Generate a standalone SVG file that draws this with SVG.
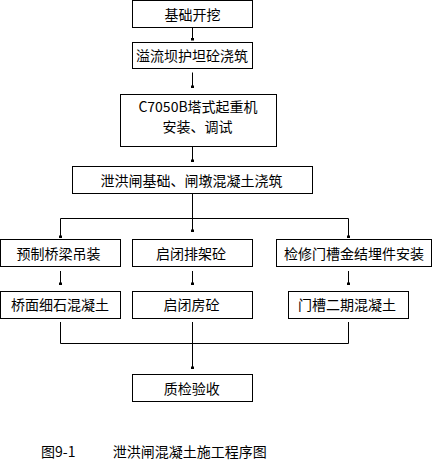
<svg xmlns="http://www.w3.org/2000/svg" width="432" height="464" viewBox="0 0 432 464">
<defs>
<style>
.box{fill:#fff;stroke:#000;stroke-width:1}
.t{font-family:"Noto Sans CJK SC","Liberation Sans",sans-serif;font-size:14px;fill:#000;text-anchor:middle}
.c{fill:none;stroke:#000;stroke-width:1}
.ah{fill:#000}
</style>
</defs>
<rect width="432" height="464" fill="#fff"/>
<g id="connectors">
<path class="c" d="M192.5,27.5V40"/>
<rect class="ah" x="191" y="38" width="3" height="2.5"/>
<path class="c" d="M192.5,72.5V87.5"/>
<rect class="ah" x="191" y="85.5" width="3" height="2.5"/>
<path class="c" d="M192.5,146.5V161.5"/>
<rect class="ah" x="191" y="159.5" width="3" height="2.5"/>
<path class="c" d="M192.5,193.5V231.5"/>
<rect class="ah" x="191" y="229.5" width="3" height="2.5"/>
<path class="c" d="M60.5,237.5V218.5H348.5V237.5"/>
<rect class="ah" x="59" y="235.5" width="3" height="2.5"/>
<rect class="ah" x="347" y="235.5" width="3" height="2.5"/>
<path class="c" d="M60.5,271V284.5M192.5,271V284.5M348.5,271V284.5"/>
<rect class="ah" x="59" y="282.5" width="3" height="2.5"/>
<rect class="ah" x="191" y="282.5" width="3" height="2.5"/>
<rect class="ah" x="347" y="282.5" width="3" height="2.5"/>
<path class="c" d="M60.5,322V343.5H348.5V322M192.5,322V368.5"/>
<rect class="ah" x="191" y="366.5" width="3" height="2.5"/>
</g>
<g id="n1"><rect class="box" x="132.5" y="0.5" width="120" height="27"/><text class="t" x="192.5" y="20">基础开挖</text></g>
<g id="n2"><rect class="box" x="132.5" y="42.5" width="120" height="26"/><text class="t" x="192" y="61">溢流坝护坦砼浇筑</text></g>
<g id="n3"><rect class="box" x="120.5" y="94.5" width="156" height="52"/><text class="t" x="198" y="112">C7050B塔式起重机</text><text class="t" x="197.5" y="132">安装、调试</text></g>
<g id="n4"><rect class="box" x="72.5" y="166.5" width="240" height="27"/><text class="t" x="191.5" y="186">泄洪闸基础、闸墩混凝土浇筑</text></g>
<g id="n5"><rect class="box" x="0.5" y="239.5" width="120" height="27"/><text class="t" x="58.5" y="258.5">预制桥梁吊装</text></g>
<g id="n6"><rect class="box" x="132.5" y="239.5" width="120" height="27"/><text class="t" x="191" y="258.5">启闭排架砼</text></g>
<g id="n7"><rect class="box" x="276.5" y="239.5" width="155" height="27"/><text class="t" x="354" y="258.5">检修门槽金结埋件安装</text></g>
<g id="n8"><rect class="box" x="0.5" y="291.5" width="120" height="27"/><text class="t" x="60" y="310">桥面细石混凝土</text></g>
<g id="n9"><rect class="box" x="132.5" y="291.5" width="120" height="27"/><text class="t" x="191.5" y="310">启闭房砼</text></g>
<g id="n10"><rect class="box" x="288.5" y="291.5" width="120" height="27"/><text class="t" x="347" y="310">门槽二期混凝土</text></g>
<g id="n11"><rect class="box" x="132.5" y="374.5" width="120" height="27"/><text class="t" x="191.7" y="393.5">质检验收</text></g>
<g id="caption">
<text class="t" x="41" y="457" style="text-anchor:start">图9-1</text>
<text class="t" x="112.7" y="457" style="text-anchor:start">泄洪闸混凝土施工程序图</text>
</g>
</svg>
